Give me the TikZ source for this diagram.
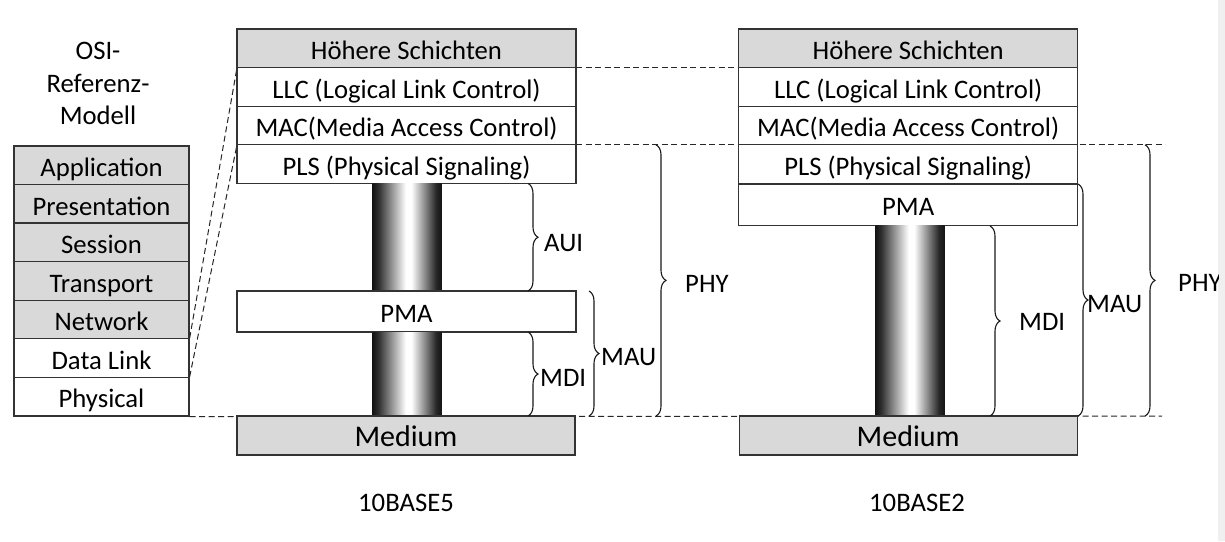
\documentclass[tikz,border=0pt]{standalone}
\usepackage{fontspec}
\setmainfont{Carlito}
\usetikzlibrary{decorations.pathreplacing}
\pgfdeclarehorizontalshading{cable}{100bp}{color(0bp)=(black!92); color(25bp)=(black!92); color(29bp)=(black!82); color(49bp)=(white); color(53bp)=(white); color(71bp)=(black!85); color(75bp)=(black!92); color(100bp)=(black!92)}
\begin{document}
\begin{tikzpicture}[x=1pt,y=-1pt,
  txt/.style={font=\fontsize{26.7}{32}\selectfont, text height=26pt, text depth=3.5pt, inner sep=0pt},
  box/.style={txt, draw=black!80, line width=1.3pt, fill=white, minimum height=38.6pt},
  osibox/.style={box, minimum width=175pt},
  stackbox/.style={box, minimum width=339pt},
  graybox/.style={fill=gray!30},
  medbox/.style={box, fill=gray!30, font=\fontsize{30}{36}\selectfont, minimum width=338pt, minimum height=39pt},
  cablebar/.style={shading=cable, draw=none, minimum width=69pt, inner sep=0pt},
  dline/.style={dashed, dash pattern=on 6pt off 3.5pt, line width=1pt, black!85},
  brc/.style={decorate, decoration={brace, amplitude=10pt}, line width=1.1pt, black!90},
  lbl/.style={txt, anchor=west}
]
\useasboundingbox (0,0) rectangle (1225,541);
\fill[white] (0,0) rectangle (1225,541);
\fill[black!6] (1218,0) rectangle (1225,541);

% OSI model
\node[txt] (osi1) at (98,48.5) {OSI-};
\node[txt] (osi2) at (98,81.5) {Referenz-};
\node[txt] (osi3) at (98,113.5) {Modell};
\node[osibox, graybox] (app)  at (101.5,165.3) {Application};
\node[osibox, graybox] (pres) at (101.5,203.9) {Presentation};
\node[osibox, graybox] (sess) at (101.5,242.4) {Session};
\node[osibox, graybox] (trans) at (101.5,281.0) {Transport};
\node[osibox, graybox] (net)  at (101.5,319.6) {Network};
\node[osibox] (dl)   at (101.5,358.1) {Data Link};
\node[osibox] (phys) at (101.5,396.7) {Physical};

% dashed connection lines (behind the stacks)
\coordinate (phyend) at (1165,144.8);
\coordinate (botend) at (1162,416);
\draw[dline] (dl.north east) -- (237,67.6);
\draw[dline] (phys.north east) -- (237,144.8);
\draw[dline] (phys.south east) -- (botend);
\draw[dline] (576,67.6) -- (739,67.6);
\draw[dline] (576,144.8) -- (phyend);

% 10BASE5 stack
\node[stackbox, graybox] (hs1)  at (406.5,48.3) {Höhere Schichten};
\node[stackbox] (llc1) at (406.5,86.9) {LLC (Logical Link Control)};
\node[stackbox] (mac1) at (406.5,125.5) {MAC(Media Access Control)};
\node[stackbox] (pls1) at (406.5,164.1) {PLS (Physical Signaling)};
\node[cablebar, minimum height=107.6pt] (cab1a) at (407.2,237.2) {};
\node[stackbox, minimum height=41pt] (pma1) at (406.5,311.5) {PMA};
\node[cablebar, minimum height=84pt] (cab1b) at (407.2,374) {};
\node[medbox] (med1) at (406,435.5) {Medium};
\node[txt] (t5) at (406,500.5) {10BASE5};

% 10BASE2 stack
\node[stackbox, graybox] (hs2)  at (908.2,48.3) {Höhere Schichten};
\node[stackbox] (llc2) at (908.2,86.9) {LLC (Logical Link Control)};
\node[stackbox] (mac2) at (908.2,125.5) {MAC(Media Access Control)};
\node[stackbox] (pls2) at (908.2,164.1) {PLS (Physical Signaling)};
\node[stackbox, minimum height=41.5pt] (pma2) at (908.2,204.6) {PMA};
\node[cablebar, minimum height=190.6pt] (cab2) at (910,320.7) {};
\node[medbox] (med2) at (908.2,435.5) {Medium};
\node[txt] (t2) at (917,500.5) {10BASE2};

% braces 10BASE5
\draw[brc] (528,183.4) -- (528,291);
\node[lbl] (aui) at (544,240) {AUI};
\draw[brc] (528,332) -- (528,416);
\node[lbl] (mdi1) at (540,375.5) {MDI};
\draw[brc] (589,291) -- (589,416);
\node[lbl] (mau1) at (601,354.5) {MAU};
\draw[brc] (656,144.8) -- (656,416);
\node[lbl] (phy1) at (685,281.5) {PHY};

% braces 10BASE2
\draw[brc] (990,226) -- (990,416);
\node[lbl] (mdi2) at (1019,319.5) {MDI};
\draw[brc] (1078,184) -- (1078,416);
\node[lbl] (mau2) at (1087,301.5) {MAU};
\draw[brc] (1145,144.8) -- (1145,416);
\begin{scope}
\clip (1150,0) rectangle (1218,541);
\node[lbl] (phy2) at (1178,280.5) {PHY};
\end{scope}
\end{tikzpicture}
\end{document}
